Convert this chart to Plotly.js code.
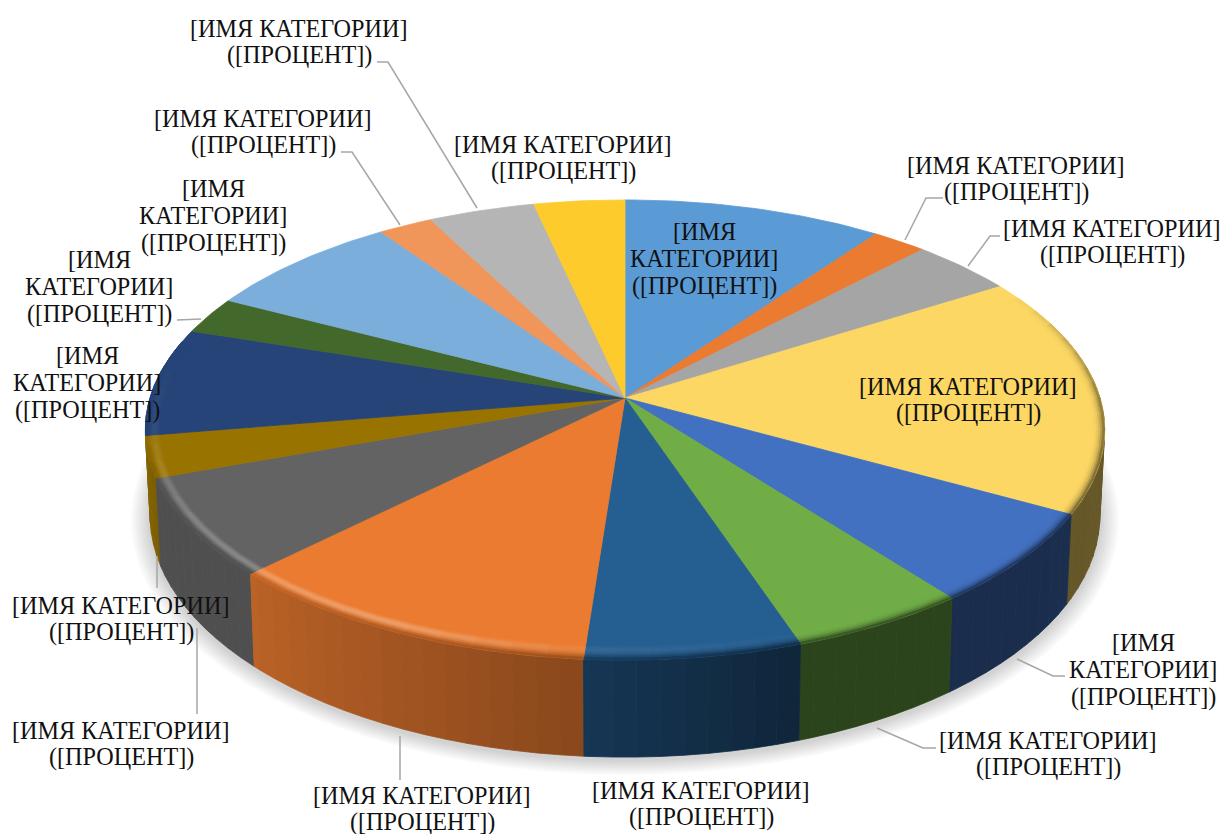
<!DOCTYPE html>
<html><head><meta charset="utf-8">
<script src="https://cdn.plot.ly/plotly-3.0.1.min.js"></script>
<style>html,body{margin:0;padding:0;background:#fff}</style></head>
<body><div id="chart" style="width:1224px;height:834px"></div>
<script>
// --- data: share of each slice, clockwise from 12 o'clock (percent)
const sliceValues = [10.0, 2.1, 4.0, 16.9, 6.5, 5.3, 6.4, 11.4, 6.9, 2.9, 7.6, 2.6, 7.7, 2.1, 4.1, 3.5];
const sliceColors = ['#5B9BD5','#EB7B30','#A5A5A5','#FCD764','#4371C1','#70AD47','#255E91','#EB7B30','#636363','#997300','#264478','#43682B','#7CAEDC','#F0965A','#B5B5B5','#FDCB2C'];
const categoryText = '[ИМЯ КАТЕГОРИИ]';
const nameWord = '[ИМЯ';
const categoryWord = 'КАТЕГОРИИ]';
const percentText = '([ПРОЦЕНТ])';

// --- label placement: [centre x, first-line y, wrapped?]
const labelPlacement = [
  [704,231,1],[1016,165,0],[1112,228,0],[968,386,0],[1143,642,1],[1048,740,0],[701,790,0],[422,795,0],
  [121,605,0],[121,730,0],[87,355,1],[99,259,1],[213,188,1],[263,118,0],[299,28,0],[563,144,0]
];
const leaderPaths = [
  'M905,240 L926,198 L943,198','M968,266 L990,236 L1000,236','M1017,659 L1053,676 L1065,676',
  'M877,728 L923,748 L936,748','M400,736 L400,780','M197,628 L197,714','M157,556 L157,588',
  'M177,320 L201,319','M341,152 L352,152 L400,225','M377,62 L388,62 L477,208'
];

// --- projection of the tilted disc
const C = {x:625, y:398, a:475, b:225.6, k:0.139};
const BASE = {sx:0.99, sy:1.05, dy:84};
function topPt(deg, r){ r = r===undefined?1:r;
  const t = deg*Math.PI/180, X = r*Math.sin(t), Y = -r*Math.cos(t), w = 1-C.k*Y;
  return [C.x + C.a*X/w, C.y + C.b*Y/w];
}
function basePt(deg){ const p = topPt(deg);
  return [C.x + (p[0]-C.x)*BASE.sx, C.y + BASE.dy + (p[1]-C.y)*BASE.sy];
}
function rimInset(deg, px){ const p = topPt(deg), dx=C.x-p[0], dy=C.y-p[1], d=Math.hypot(dx,dy);
  return [p[0]+dx*px/d, p[1]+dy*px/d];
}
function hex(c){ return [1,3,5].map(i=>parseInt(c.substr(i,2),16)); }
function mix(a,b,t){ return a.map((v,i)=>v+(b[i]-v)*t); }
function css(c){ return 'rgb('+c.map(v=>Math.round(v)).join(',')+')'; }
function lookup(tbl,x){
  if(x<=tbl[0][0]) return tbl[0][1];
  for(let i=1;i<tbl.length;i++) if(x<=tbl[i][0]){
    const f=(x-tbl[i-1][0])/(tbl[i][0]-tbl[i-1][0]); return tbl[i-1][1]+(tbl[i][1]-tbl[i-1][1])*f; }
  return tbl[tbl.length-1][1];
}
const wallShade = [[75,.42],[160,.39],[172,.48],[184,.58],[226,.8],[250,.8],[262,.92],[280,1]];
const glowShade = [[150,0],[185,.08],[205,.3],[240,.24],[262,.06],[280,0]];
const bevelWeight = [[62,0],[90,.85],[105,1],[250,1],[285,0]];

const traces = [];
function poly(pts,color){
  const closed=pts.concat([pts[0]]);
  traces.push({type:'scatter',mode:'lines',x:closed.map(p=>p[0]),y:closed.map(p=>p[1]),fill:'toself',
    fillcolor:color,line:{color:color,width:0.8},hoverinfo:'skip',showlegend:false});
}
// slice boundaries from values
const total = sliceValues.reduce((a,b)=>a+b,0);
const edges = [0];
sliceValues.forEach(v=>edges.push(edges[edges.length-1]+v/total*360));

// soft shadow under the disc
for(let i=9;i>=1;i--){
  const pts=[]; for(let d=0;d<360;d+=4){ const p=basePt(d);
    const gx=1+i*0.0045, gy=1+i*0.006;
    pts.push([C.x+(p[0]-C.x)*gx, C.y+BASE.dy+3+(p[1]-C.y-BASE.dy)*gy]); }
  traces.push({type:'scatter',mode:'lines',x:pts.map(p=>p[0]),y:pts.map(p=>p[1]),fill:'toself',
    fillcolor:'rgba(0,0,0,0.018)',line:{width:0},hoverinfo:'skip',showlegend:false});
}
// side wall in shaded strips, painted back to front
const stepWall=2.5, strips=[];
sliceValues.forEach((v,i)=>{
  const a0=Math.max(edges[i],70), a1=Math.min(edges[i+1],285);
  if(a1<=a0) return;
  const base=hex(sliceColors[i]);
  for(let a=a0;a<a1;a+=stepWall){
    const b=Math.min(a+stepWall,a1), pts=[];
    const m=(a+b)/2;
    for(let d=a;d<=b+1e-6;d+=(b-a)/3) pts.push(topPt(d));
    for(let d=b;d>=a-1e-6;d-=(b-a)/3) pts.push(basePt(d));
    strips.push({depth:-Math.cos(m*Math.PI/180),pts:pts,color:css(base.map(c=>c*lookup(wallShade,m)))});
  }
});
strips.sort((p,q)=>p.depth-q.depth).forEach(s=>poly(s.pts,s.color));
// top faces
sliceValues.forEach((v,i)=>{
  const pts=[[C.x,C.y]];
  for(let d=edges[i];d<edges[i+1];d+=1) pts.push(topPt(d));
  pts.push(topPt(edges[i+1]));
  poly(pts,sliceColors[i]);
});
// bevel along the visible rim
const bands=7, bevelPx=14, stepBevel=4;
sliceValues.forEach((v,i)=>{
  const a0=Math.max(edges[i],62), a1=Math.min(edges[i+1],285);
  if(a1<=a0) return;
  const base=hex(sliceColors[i]);
  for(let a=a0;a<a1;a+=stepBevel){
    const b=Math.min(a+stepBevel,a1), m=(a+b)/2;
    for(let k=0;k<bands;k++){
      const t=(k+.5)/bands, w=lookup(bevelWeight,m);
      const wall=base.map(c=>c*lookup(wallShade,m));
      let col=mix(base,[255,255,255],lookup(glowShade,m)*Math.sin(Math.PI*Math.min(1,t*1.25)));
      col=mix(col,wall,w*Math.pow(t,3));
      const o=bevelPx*(1-k/bands), n=Math.max(0,bevelPx*(1-(k+1)/bands)), pts=[];
      for(let d=a;d<=b+1e-6;d+=(b-a)/2) pts.push(rimInset(d,o));
      for(let d=b;d>=a-1e-6;d-=(b-a)/2) pts.push(rimInset(d,n));
      poly(pts,css(col));
    }
  }
});

// labels
const FONT={family:'"Liberation Serif","Times New Roman",serif',size:24.2,color:'#111111'};
const annotations=[];
labelPlacement.forEach(l=>{
  const lines=l[2]?[nameWord,categoryWord,percentText]:[categoryText,percentText];
  lines.forEach((t,j)=>annotations.push({x:l[0],y:l[1]+j*27.3,xref:'x',yref:'y',text:t,showarrow:false,
    xanchor:'center',yanchor:'middle',font:FONT}));
});
const shapes=leaderPaths.map(p=>({type:'path',path:p,xref:'x',yref:'y',line:{color:'#a6a6a6',width:1.5},layer:'above'}));

Plotly.newPlot('chart',traces,{
  width:1224,height:834,margin:{l:0,r:0,t:0,b:0},paper_bgcolor:'#fff',plot_bgcolor:'#fff',showlegend:false,
  xaxis:{range:[0,1224],visible:false,fixedrange:true},
  yaxis:{range:[834,0],visible:false,fixedrange:true},
  annotations:annotations,shapes:shapes
},{displayModeBar:false,staticPlot:true});
</script></body></html>
